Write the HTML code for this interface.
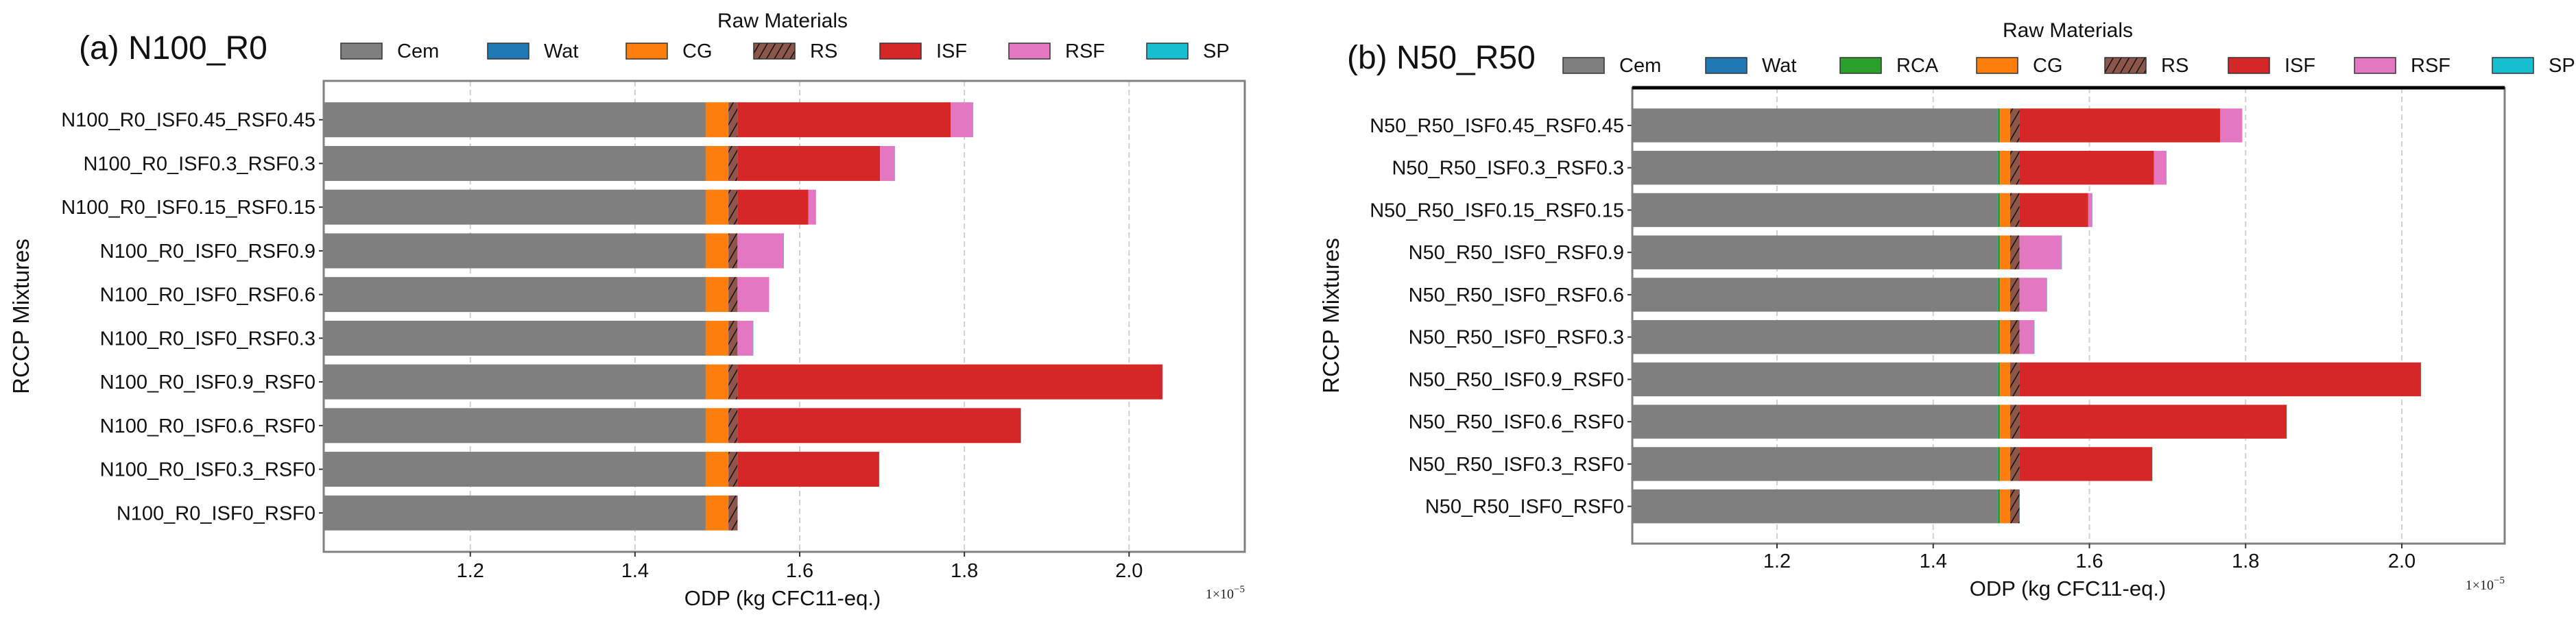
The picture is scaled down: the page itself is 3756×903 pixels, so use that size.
<!DOCTYPE html>
<html><head><meta charset="utf-8"><style>
html,body{margin:0;padding:0;background:#fff;}
svg{display:block;font-family:"Liberation Sans","DejaVu Sans",sans-serif;}
</style></head><body>
<svg id="chart" width="3756" height="903" viewBox="0 0 3756 903" xmlns="http://www.w3.org/2000/svg">
<defs>
<pattern id="hatch" patternUnits="userSpaceOnUse" width="10" height="10" patternTransform="rotate(30)">
<rect width="10" height="10" fill="#8c564b"/><line x1="0" y1="0" x2="0" y2="10" stroke="#111" stroke-width="3"/>
</pattern>
</defs>
</svg>
<script>
const materialsA = ["Cem","Wat","CG","RS","ISF","RSF","SP"];
const materialsB = ["Cem","Wat","RCA","CG","RS","ISF","RSF","SP"];
const categoriesA = ["N100_R0_ISF0_RSF0","N100_R0_ISF0.3_RSF0","N100_R0_ISF0.6_RSF0","N100_R0_ISF0.9_RSF0","N100_R0_ISF0_RSF0.3","N100_R0_ISF0_RSF0.6","N100_R0_ISF0_RSF0.9","N100_R0_ISF0.15_RSF0.15","N100_R0_ISF0.3_RSF0.3","N100_R0_ISF0.45_RSF0.45"];
const categoriesB = ["N50_R50_ISF0_RSF0","N50_R50_ISF0.3_RSF0","N50_R50_ISF0.6_RSF0","N50_R50_ISF0.9_RSF0","N50_R50_ISF0_RSF0.3","N50_R50_ISF0_RSF0.6","N50_R50_ISF0_RSF0.9","N50_R50_ISF0.15_RSF0.15","N50_R50_ISF0.3_RSF0.3","N50_R50_ISF0.45_RSF0.45"];
// values in 1e-5 kg CFC11-eq
const cemA = [1.485,1.485,1.485,1.485,1.485,1.485,1.485,1.485,1.485,1.485];
const watA = [0.0005,0.0005,0.0005,0.0005,0.0005,0.0005,0.0005,0.0005,0.0005,0.0005];
const cgA  = [0.028,0.028,0.028,0.028,0.028,0.028,0.028,0.028,0.028,0.028];
const rsA  = [0.011,0.011,0.011,0.011,0.011,0.011,0.011,0.011,0.011,0.011];
const isfA = [0,0.172,0.344,0.516,0,0,0,0.086,0.173,0.259];
const rsfA = [0,0,0,0,0.019,0.038,0.056,0.009,0.018,0.027];
const spA  = [0.0003,0.0003,0.0003,0.0003,0.0003,0.0003,0.0003,0.0003,0.0003,0.0003];
const cemB = [1.482,1.482,1.482,1.482,1.482,1.482,1.482,1.482,1.482,1.482];
const watB = [0.0005,0.0005,0.0005,0.0005,0.0005,0.0005,0.0005,0.0005,0.0005,0.0005];
const rcaB = [0.003,0.003,0.003,0.003,0.003,0.003,0.003,0.003,0.003,0.003];
const cgB  = [0.013,0.013,0.013,0.013,0.013,0.013,0.013,0.013,0.013,0.013];
const rsB  = [0.012,0.012,0.012,0.012,0.012,0.012,0.012,0.012,0.012,0.012];
const isfB = [0,0.170,0.342,0.514,0,0,0,0.088,0.172,0.257];
const rsfB = [0,0,0,0,0.019,0.035,0.054,0.005,0.016,0.028];
const spB  = [0.0003,0.0003,0.0003,0.0003,0.0003,0.0003,0.0003,0.0003,0.0003,0.0003];
const xTicks = [1.2,1.4,1.6,1.8,2.0];
const xTickLabels = ["1.2","1.4","1.6","1.8","2.0"];

const colors = {Cem:"#7f7f7f",Wat:"#1f77b4",RCA:"#2ca02c",CG:"#ff7f0e",RS:"url(#hatch)",ISF:"#d62728",RSF:"#e377c2",SP:"#17becf"};
const svg = document.getElementById('chart');
const NS = "http://www.w3.org/2000/svg";
function mk(tag, attrs, parent){const e=document.createElementNS(NS,tag);for(const k in attrs)e.setAttribute(k,attrs[k]);(parent||svg).appendChild(e);return e;}

function panel(cfg){
  const g = mk('g',{});
  
  
  const {L,R,T,B,xmin,xmax,ymin,ymax} = cfg;
  const xs = v => L + (v - xmin)/(xmax - xmin)*(R-L);
  const ys = i => T + (ymax - i)/(ymax - ymin)*(B-T);
  const bandH = (B-T)/(ymax-ymin);
  xTicks.forEach((t,k)=>{
    const gl = mk('line',{x1:xs(t),x2:xs(t),y1:T,y2:B,stroke:"#d0d0d0","stroke-width":2,"stroke-dasharray":"8,5"},g);
    
    
  });
  cfg.cats.forEach((c,i)=>{
    let acc = 0;
    cfg.mats.forEach((m,j)=>{
      const v = cfg.series[j][i];
      const x0 = xs(Math.max(acc,xmin)), x1 = xs(acc+v);
      acc += v;
      if (x1 <= L) return;
      const r = mk('rect',{x:x0,y:ys(i)-bandH*0.4,width:Math.max(0,x1-x0),height:bandH*0.8,fill:colors[m]},g);
      
      
    });
    const tk = mk('line',{x1:L-7,x2:L,y1:ys(i),y2:ys(i),stroke:"#333","stroke-width":2},g);
    
    
    const tl = mk('text',{x:L-12,y:ys(i)+10,"text-anchor":"end","font-size":29,fill:"#111"},g);
    tl.textContent = c;
    
    
  });
  const fr = mk('rect',{x:L,y:T,width:R-L,height:B-T,fill:"none",stroke:"#808080","stroke-width":3},g);
  
  
  if (cfg.blackTop){
    const tp = mk('line',{x1:L,x2:R,y1:T,y2:T,stroke:"#000","stroke-width":5},g);
    
    
  }
  xTicks.forEach((t,k)=>{
    const tk = mk('line',{x1:xs(t),x2:xs(t),y1:B,y2:B+7,stroke:"#333","stroke-width":2},g);
    
    
    const tl = mk('text',{x:xs(t),y:cfg.tickY,"text-anchor":"middle","font-size":29,fill:"#111"},g);
    tl.textContent = xTickLabels[k];
    
    
  });
  const xl = mk('text',{x:cfg.xlabX,y:cfg.xlabY,"text-anchor":"middle","font-size":31,fill:"#111"},g);
  xl.textContent = "ODP (kg CFC11-eq.)";
  
  
  const ex = mk('text',{x:R,y:cfg.expY,"text-anchor":"end","font-size":20,fill:"#222","font-family":"Liberation Serif, serif"},g);
  ex.innerHTML = '1×10<tspan dy="-9" font-size="15">−5</tspan>';
  
  
  const yl = mk('text',{x:0,y:0,"text-anchor":"middle","font-size":33,fill:"#111",transform:`translate(${cfg.ylabX},${(T+B)/2}) rotate(-90)`},g);
  yl.textContent = "RCCP Mixtures";
  
  
  const tt = mk('text',{x:cfg.titleX,y:cfg.titleY,"font-size":48,fill:"#111"},g);
  tt.textContent = cfg.title;
  
  
  const lt = mk('text',{x:cfg.legTitleX,y:cfg.legTitleY,"text-anchor":"middle","font-size":30,fill:"#111"},g);
  lt.textContent = "Raw Materials";
  
  
  cfg.mats.forEach((m,j)=>{
    const lx = cfg.legX[j];
    const pr = mk('rect',{x:lx,y:cfg.legY,width:60,height:23,fill:colors[m],stroke:"#333","stroke-width":1.5},g);
    
    
    const tx = mk('text',{x:lx+82,y:cfg.legY+21,"font-size":29,fill:"#111"},g);
    tx.textContent = m;
    
    
  });
}

panel({id:"a",L:472,R:1815,T:118,B:805,xmin:1.022,xmax:2.1405,ymin:-0.89,ymax:9.89,
  cats:categoriesA,mats:materialsA,series:[cemA,watA,cgA,rsA,isfA,rsfA,spA],
  tickY:842,xlabX:1141,xlabY:883,expY:873,ylabX:42,title:"(a) N100_R0",titleX:115,titleY:86,
  legTitleX:1141,legTitleY:40,legY:63,legX:[497,711,913,1099,1283,1471,1672]});
panel({id:"b",L:2380,R:3652,T:128,B:793,xmin:1.0147,xmax:2.1317,ymin:-0.88,ymax:9.89,blackTop:true,
  cats:categoriesB,mats:materialsB,series:[cemB,watB,rcaB,cgB,rsB,isfB,rsfB,spB],
  tickY:828,xlabX:3015,xlabY:869,expY:860,ylabX:1952,title:"(b) N50_R50",titleX:1964,titleY:100,
  legTitleX:3015,legTitleY:54,legY:84,legX:[2279,2487,2683,2882,3069,3249,3433,3634]});
</script>
</body></html>
